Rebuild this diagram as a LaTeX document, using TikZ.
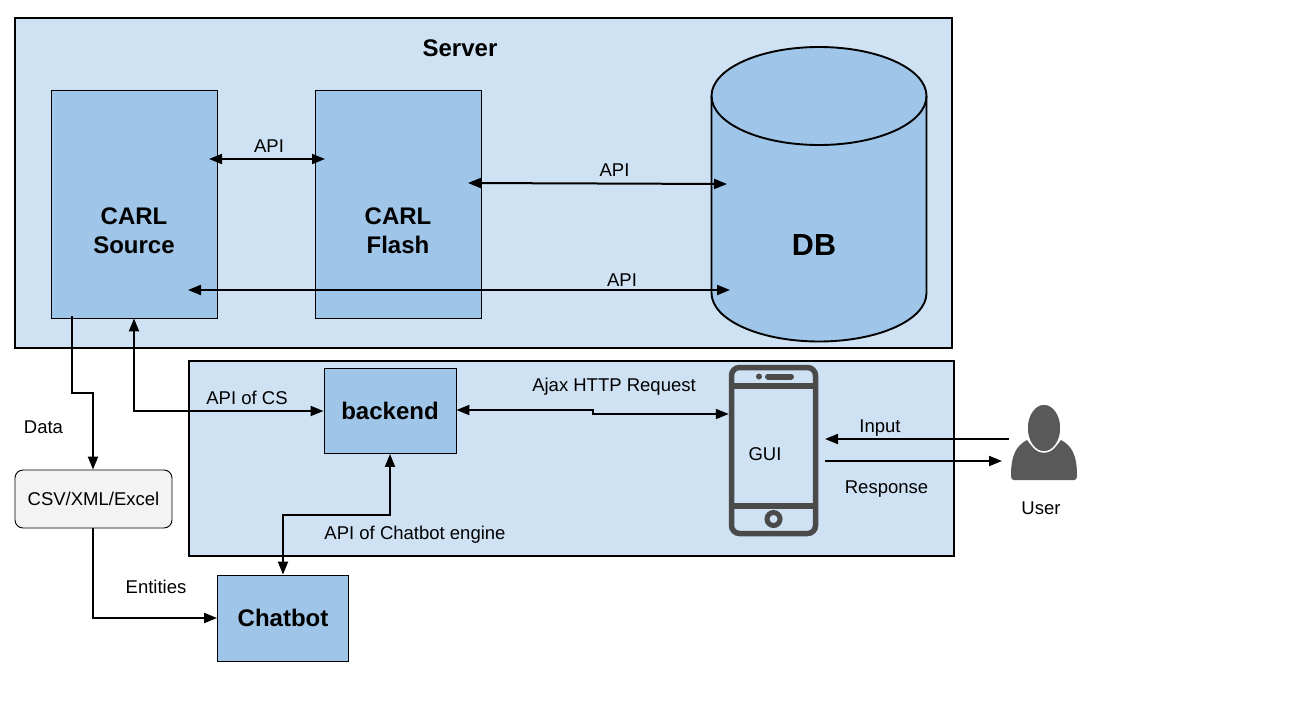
\documentclass[tikz,border=0pt]{standalone}
\usepackage{fontspec}
\setmainfont{Liberation Sans}
\usetikzlibrary{arrows.meta,calc}
\definecolor{panel}{HTML}{CFE2F3}
\definecolor{block}{HTML}{9FC5E8}
\definecolor{soft}{HTML}{F3F3F3}
\definecolor{iconc}{HTML}{4A4A4A}
\definecolor{userc}{HTML}{595959}
\tikzset{
  panelbox/.style={draw=black,line width=1.8pt,fill=panel,minimum width=#1,inner sep=0pt},
  blockbox/.style={draw=black,line width=0.9pt,fill=block,inner sep=0pt},
  blocktext/.style={align=center,font=\fontsize{24}{29}\selectfont\bfseries,inner sep=0pt},
  softbox/.style={draw=black,line width=0.9pt,fill=soft,rounded corners=8pt,inner sep=0pt,font=\fontsize{18.5}{22}\selectfont},
  lab/.style={font=\fontsize{18.5}{22}\selectfont,inner sep=0pt},
  conn/.style={line width=2pt,-{Stealth[length=13pt,width=10pt,inset=0pt]}},
  conn2/.style={line width=2pt,{Stealth[length=13pt,width=10pt,inset=0pt]}-{Stealth[length=13pt,width=10pt,inset=0pt]}},
}
\begin{document}
\begin{tikzpicture}[x=1pt,y=-1pt]
\useasboundingbox (0,0) rectangle (1298,701);
\fill[white] (0,0) rectangle (1298,701);
% panels
\node[panelbox=937pt,minimum height=330pt] (server) at (483.5,183) {};
\node[panelbox=765pt,minimum height=195pt] (front) at (571.5,458.5) {};
\node[blocktext] (servert) at (460,48.5) {Server};
% blocks
\node[blockbox,minimum width=166pt,minimum height=228pt] (source) at (134,204) {};
\node[blocktext] (sourcet) at (134,231) {CARL\\Source};
\node[blockbox,minimum width=166pt,minimum height=228pt] (flash) at (398,204) {};
\node[blocktext] (flasht) at (398,231) {CARL\\Flash};
\node[blockbox,blocktext,minimum width=132pt,minimum height=85pt] (backend) at (390,411) {backend};
\node[blockbox,blocktext,minimum width=131pt,minimum height=86pt] (chatbot) at (283,618) {Chatbot};
\node[softbox,minimum width=157pt,minimum height=58pt] (csv) at (93.5,499) {\raisebox{-1pt}{CSV/XML/Excel}};
% DB cylinder
\draw[line width=1.9pt,fill=block] (711.5,96) -- (711.5,293) arc[start angle=180,end angle=360,x radius=107.5pt,y radius=48.5pt] -- (926.5,96) arc[start angle=0,end angle=180,x radius=107.5pt,y radius=49pt] -- cycle;
\draw[line width=1.9pt] (711.5,96) arc[start angle=180,end angle=360,x radius=107.5pt,y radius=49pt];
\node[font=\fontsize{30.5}{36}\selectfont\bfseries,inner sep=0pt] (db) at (814,245) {DB};
% phone
\node[draw=iconc,line width=5.5pt,rounded corners=8pt,minimum width=84pt,minimum height=166pt,inner sep=0pt] (phone) at (773.5,450.5) {};
\draw[iconc,line width=5.5pt] (phone.north west |- 0,386) -- (phone.north east |- 0,386);
\draw[iconc,line width=5.5pt] (phone.north west |- 0,506) -- (phone.north east |- 0,506);
\fill[iconc] (759,376.5) circle[radius=3pt];
\draw[iconc,line width=6pt,line cap=round] (768,376.5) -- (791,376.5);
\draw[iconc,line width=5pt] (773.5,519) circle[radius=6.5pt];
\node[lab] (gui) at (765,454.5) {GUI};
% user
\fill[userc] (1011,476) .. controls (1011,455) and (1016,446) .. (1027,440) .. controls (1033,452) and (1055,452) .. (1061,440) .. controls (1072,446) and (1077,455) .. (1077,476) .. controls (1077,479) and (1076,480) .. (1074,480) -- (1014,480) .. controls (1012,480) and (1011,479) .. (1011,476) -- cycle;
\fill[userc,draw=white,line width=1.5pt] (1044,428) ellipse[x radius=17pt,y radius=24pt];
\node[lab] (user) at (1041,508) {User};
% free ends
\coordinate (a1) at (209,159); \coordinate (a2) at (325,159);
\coordinate (b1) at (468,183); \coordinate (b2) at (727,184);
\coordinate (c1) at (188,290); \coordinate (c2) at (730,290);
\coordinate (d1) at (72,316);
\coordinate (in1) at (1009,439); \coordinate (in2) at (825,439);
\coordinate (re1) at (825,461); \coordinate (re2) at (1002,461);
% connectors
\draw[conn2] (a1) -- (a2);
\draw[conn2] (b1) -- (b2);
\draw[conn2] (c1) -- (c2);
\draw[conn] (d1) -- (72,393) -- (93,393) -- (csv.north -| 93,0);
\draw[conn2] (source.south) -- (134,411) -- (backend.west |- 0,411);
\draw[conn2] (backend.east |- 0,410) -- (593,410) -- (593,414) -- (phone.west |- 0,414);
\draw[conn2] (chatbot.north) -- (283,515) -- (390,515) -- (backend.south);
\draw[conn] (csv.south -| 93,0) -- (93,618) -- (chatbot.west |- 0,618);
\draw[conn] (in1) -- (in2);
\draw[conn] (re1) -- (re2);
% labels
\node[lab] (l1) at (269,146) {API};
\node[lab] (l2) at (614.5,170.5) {API};
\node[lab] (l3) at (622,280.5) {API};
\node[lab] (l4) at (614,386.5) {Ajax HTTP Request};
\node[lab] (l5) at (247,397.5) {API of CS};
\node[lab] (l6) at (43.5,427.5) {Data};
\node[lab] (l7) at (880,428) {Input};
\node[lab] (l8) at (886.5,489) {Response};
\node[lab] (l9) at (415,535) {API of Chatbot engine};
\node[lab] (l10) at (156,586.5) {Entities};
\end{tikzpicture}
\end{document}
